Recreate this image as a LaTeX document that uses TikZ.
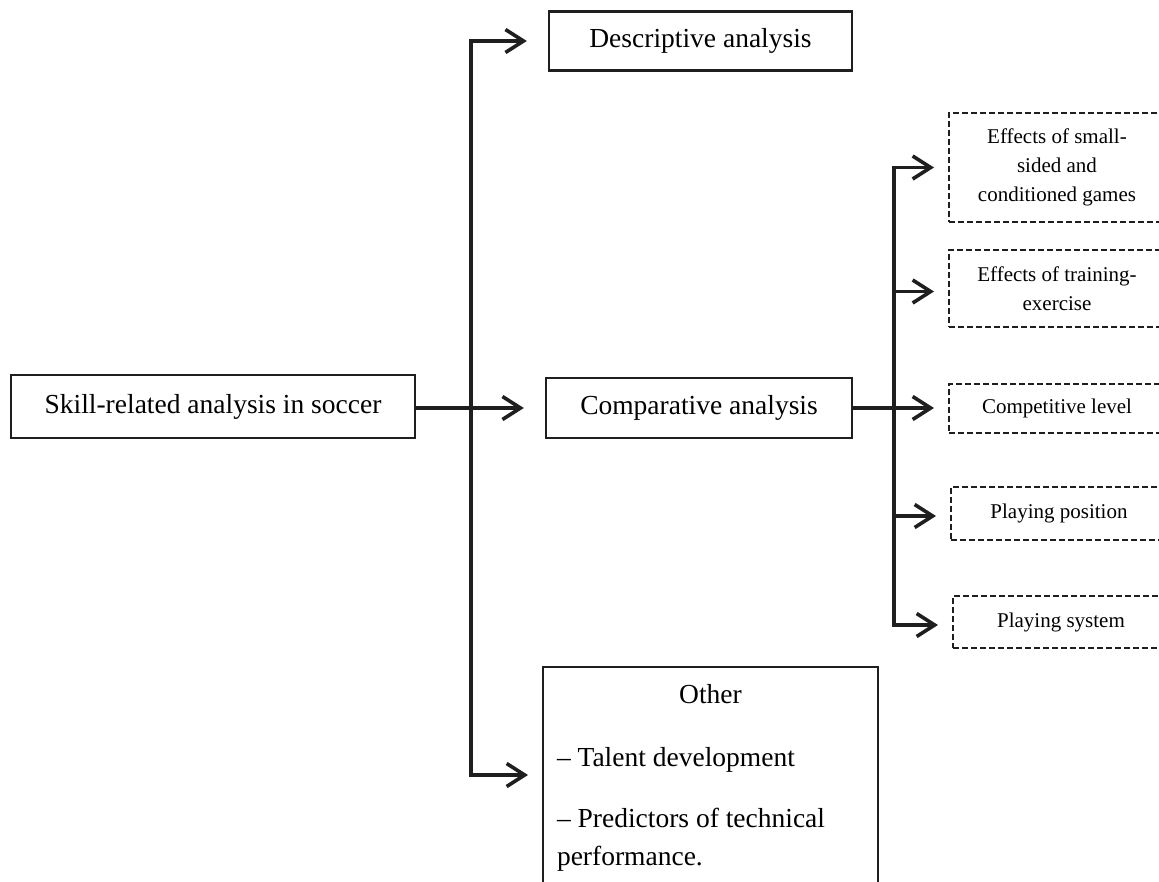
\documentclass[tikz,border=0pt]{standalone}
\usepackage{fontspec}
\setmainfont{Liberation Serif}
\usetikzlibrary{arrows.meta}
\begin{document}
\begin{tikzpicture}[x=1pt,y=-1pt,
  solidbox/.style={draw=black!88, line width=2.4pt, rectangle, inner sep=0pt, font=\fontsize{27.5}{33}\selectfont},
  dashbox/.style={draw=black!88, line width=2pt, dash pattern=on 6pt off 3pt, rectangle, inner sep=0pt, align=center, font=\fontsize{21}{29}\selectfont, minimum width=216pt},
  conn/.style={draw=black!88, line width=3.6pt},
  arrconn/.style={conn, -{Straight Barb[length=18pt,width=23pt]}},
]
\fill[white] (0,0) rectangle (1159,881);
\useasboundingbox (0,0) rectangle (1159,881);
\clip (0,0) rectangle (1159,881);

\node[solidbox, minimum width=404pt, minimum height=63pt] (skill) at (213,406.5) {Skill-related analysis in soccer};
\node[solidbox, minimum width=303pt, minimum height=59pt] (desc) at (700.5,41) {Descriptive analysis};
\node[solidbox, minimum width=306pt, minimum height=60pt] (comp) at (699,408) {Comparative analysis};
\node[solidbox, anchor=north, inner xsep=14pt, inner ysep=0pt] (other) at (710.5,666)
  {\parbox[c][240pt][t]{307pt}{\fontsize{27.5}{38}\selectfont\raggedright\vspace*{17pt}\makebox[\linewidth]{Other}\\[25pt]– Talent development\\[23pt]– Predictors of technical\\performance.}};

\node[dashbox, minimum height=109pt] (d1) at (1057,167.5) {Effects of small-\\sided and\\conditioned games};
\node[dashbox, minimum height=77pt] (d2) at (1057,288.5) {Effects of training-\\exercise};
\node[dashbox, minimum height=49pt] (d3) at (1057,408) {Competitive level};
\node[dashbox, minimum height=53pt] (d4) at (1059,513.5) {Playing position};
\node[dashbox, minimum height=52pt] (d5) at (1061,622) {Playing system};

\coordinate (j1) at (471,408);
\coordinate (j2) at (894,408);
\coordinate (otherin) at (528,775);

\draw[arrconn, shorten >=21pt] (skill.east |- j1) -- (comp.west);
\draw[arrconn, shorten >=21pt] (j1) |- (desc.west);
\draw[arrconn] (j1) |- (otherin);

\draw[conn] (comp.east) -- (j2);
\draw[arrconn, shorten >=14pt] (j2) |- (d1.west);
\draw[arrconn, shorten >=14pt] (j2) |- ([yshift=-3pt]d2.west);
\draw[arrconn, shorten >=14pt] (j2) -- (d3.west);
\draw[arrconn, shorten >=14pt] (j2) |- ([yshift=-2.5pt]d4.west);
\draw[arrconn, shorten >=14pt] (j2) |- ([yshift=-3pt]d5.west);
\end{tikzpicture}
\end{document}
